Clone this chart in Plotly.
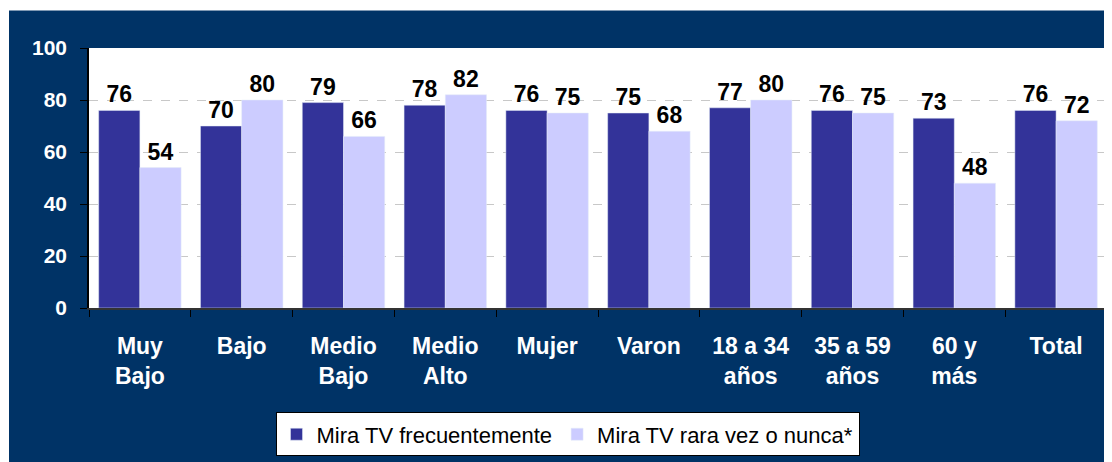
import plotly.graph_objects as go

categories = ["Muy<br>Bajo", "Bajo", "Medio<br>Bajo", "Medio<br>Alto", "Mujer", "Varon",
              "18 a 34<br>años", "35 a 59<br>años", "60 y<br>más", "Total"]
frecuente = [76, 70, 79, 78, 76, 75, 77, 76, 73, 76]
rara_vez = [54, 80, 66, 82, 75, 68, 80, 75, 48, 72]
series_names = ["Mira TV frecuentemente", "Mira TV rara vez o nunca*"]
y_ticks = [0, 20, 40, 60, 80, 100]

NAVY = "#003366"
W, H = 1104, 454
L, R, T, B = 81, 5, 40, 150
PW, PH = W - L - R, H - T - B

fig = go.Figure()
for vals, name, color in [(frecuente, series_names[0], "#333399"), (rara_vez, series_names[1], "#CCCCFF")]:
    fig.add_trace(go.Bar(x=categories, y=vals, name=name, marker_color=color,
                         text=vals, textposition="outside", cliponaxis=False,
                         textfont=dict(family="Arial", size=23, color="black", weight="bold")))

fig.update_layout(
    width=W, height=H,
    margin=dict(l=L, r=R, t=T, b=B),
    paper_bgcolor=NAVY, plot_bgcolor="white",
    barmode="group", bargap=0.19, bargroupgap=0,
    font=dict(family="Arial", color="white"),
    showlegend=True,
    legend=dict(orientation="h", x=(559.5 - L) / PW, xanchor="center",
                y=-(410 - (T + PH)) / PH, yanchor="top",
                bgcolor="white", bordercolor="black", borderwidth=1,
                font=dict(family="Arial", size=22, color="black"),
                itemwidth=30, tracegroupgap=0),
    xaxis=dict(showline=True, linecolor="#333333", linewidth=1.5, ticks="outside",
               tickson="boundaries", ticklen=7, tickcolor="black",
               tickfont=dict(family="Arial", size=23, color="white", weight="bold"),
               ticklabelstandoff=17, showgrid=False),
    yaxis=dict(range=[0, 100], tickvals=y_ticks, showline=True, linecolor="black", linewidth=1.5,
               ticks="outside", ticklen=7, tickcolor="black",
               tickfont=dict(family="Arial", size=21, color="white", weight="bold"),
               ticklabelstandoff=9, showgrid=True, gridcolor="#c8c8c8", griddash="dash",
               gridwidth=1, zeroline=False),
    shapes=[
        dict(type="rect", xref="paper", yref="paper", x0=-0.1, x1=1.01,
             y0=1 + (T - 2) / PH, y1=1 + (T + 1) / PH,
             fillcolor="white", line_width=0, layer="above"),
        dict(type="rect", xref="paper", yref="paper", x0=-0.1, x1=-(L - 1) / PW,
             y0=-0.6, y1=1.2, fillcolor="white", line_width=0, layer="above"),
    ],
)
fig.write_html("out.html")
